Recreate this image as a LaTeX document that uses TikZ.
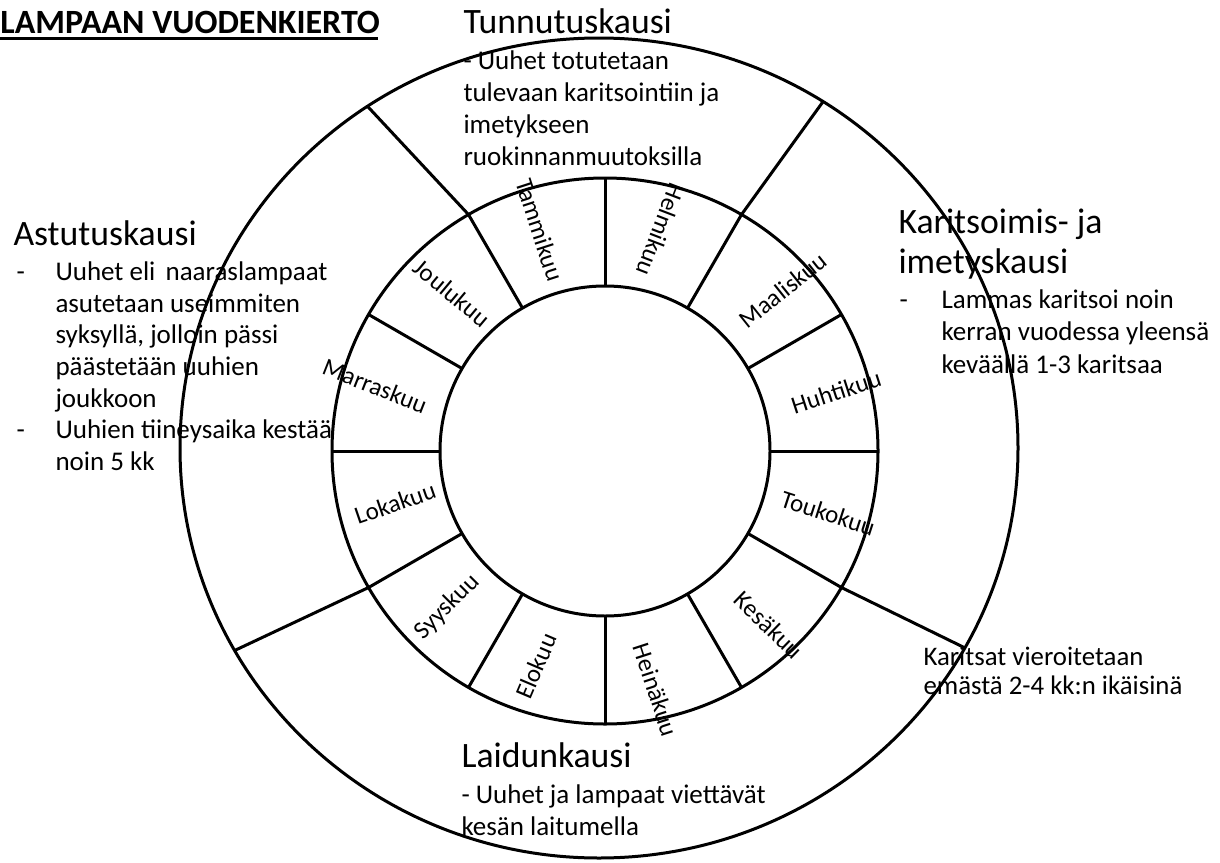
\documentclass[tikz,border=0pt]{standalone}
\usepackage{fontspec}
\setmainfont{Carlito}
\usetikzlibrary{calc}
\begin{document}
\begin{tikzpicture}[x=1pt,y=-1pt, line width=3pt,
  heading/.style={anchor=base west, inner sep=0pt, font=\fontsize{35.7}{40}\selectfont},
  body/.style={anchor=base west, inner sep=0pt, font=\fontsize{27}{32}\selectfont},
  small/.style={anchor=base west, inner sep=0pt, font=\fontsize{26.8}{30}\selectfont},
  month/.style={inner sep=0pt, font=\fontsize{25}{30}\selectfont}]
\useasboundingbox (0,0) rectangle (1220,862);
\fill[white] (0,0) rectangle (1220,862);

% title
\node[anchor=base west, inner sep=0pt, font=\fontsize{34}{40}\selectfont\bfseries] (title) at (-1,33) {LAMPAAN VUODENKIERTO};
\draw[line width=2.5pt] (0,38.5) -- (378,38.5);

% Tunnutuskausi
\node[heading] (tun) at (462,33) {Tunnutuskausi};
\node[body] at (462,69) {- Uuhet totutetaan};
\node[body] at (462,101) {tulevaan karitsointiin ja};
\node[body] at (462,133) {imetykseen};
\node[body] at (462,165) {ruokinnanmuutoksilla};

% Astutuskausi
\node[heading] (ast) at (12,245) {Astutuskausi};
\node[body] at (15,280) {-};
\node[body] at (54,280) {Uuhet eli\hspace{0.15em} naaraslampaat};
\node[body] at (54,312) {asutetaan useimmiten};
\node[body] at (54,343) {syksyllä, jolloin pässi};
\node[body] at (54,375) {päästetään uuhien};
\node[body] at (54,407) {joukkoon};
\node[body] at (15,438) {-};
\node[body] at (54,438) {Uuhien tiineysaika kestää};
\node[body] at (54,470) {noin 5 kk};

% Karitsoimis- ja imetyskausi
\node[heading] (kar) at (897,233) {Karitsoimis- ja};
\node[heading] at (897,273) {imetyskausi};
\node[body] at (898,308) {-};
\node[body] at (940,308) {Lammas karitsoi noin};
\node[body] at (940,340) {kerran vuodessa yleensä};
\node[body] at (940,373) {keväällä 1-3 karitsaa};

% Karitsat
\node[small] (vier) at (922,665) {Karitsat vieroitetaan};
\node[small] at (922,694) {emästä 2-4 kk:n ikäisinä};

% Laidunkausi
\node[heading] (lai) at (460,767) {Laidunkausi};
\node[body] at (460,803) {- Uuhet ja lampaat viettävät};
\node[body] at (460,835) {kesän laitumella};

% months
\node[month, rotate=-72] (m1) at (540,230) {Tammikuu};
\node[month, rotate=-111] (m2) at (661,230) {Helmikuu};
\node[month, rotate=38.5] (m3) at (783,290) {Maaliskuu};
\node[month, rotate=18] (m4) at (836,392) {Huhtikuu};
\node[month, rotate=-18] (m5) at (828,513) {Toukokuu};
\node[month, rotate=-44] (m6) at (769,625) {Kesäkuu};
\node[month, rotate=-72] (m7) at (656,690) {Heinäkuu};
\node[month, rotate=67] (m8) at (536,666) {Elokuu};
\node[month, rotate=45] (m9) at (447,607) {Syyskuu};
\node[month, rotate=19] (m10) at (395,503) {Lokakuu};
\node[month, rotate=-21.5] (m11) at (375,386) {Marraskuu};
\node[month, rotate=-40] (m12) at (452,293) {Joulukuu};

% rings
\coordinate (c) at (605,451);
\draw (599,448) ellipse [x radius=419pt, y radius=410pt];
\draw (c) circle[radius=273pt];
\draw (c) circle[radius=165pt];
\foreach \a in {0,30,...,330}
  \draw ($(c)+(\a:165pt)$) -- ($(c)+(\a:273pt)$);

% season dividers
\begin{scope}
\clip (599,448) ellipse [x radius=419pt, y radius=410pt];
\draw ($(c)+(120:273pt)$) coordinate (s1) -- ++(-153,-164);
\draw ($(c)+(60:273pt)$) coordinate (s2) -- ++(122,-169);
\draw ($(c)+(-30:273pt)$) coordinate (s3) -- ++(182,89);
\draw ($(c)+(-150:273pt)$) coordinate (s4) -- ++(-202,95);
\end{scope}
\end{tikzpicture}
\end{document}
